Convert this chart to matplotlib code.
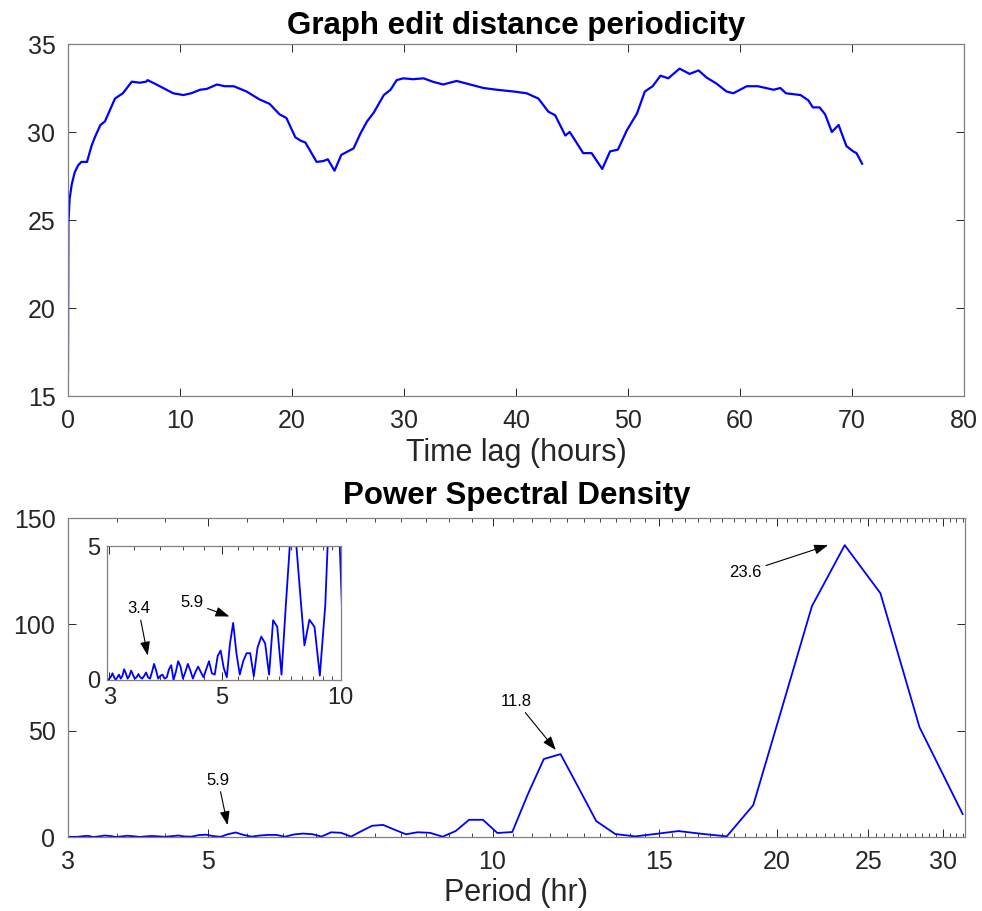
import matplotlib
matplotlib.use("Agg")
import matplotlib.pyplot as plt
from matplotlib.ticker import MultipleLocator, NullFormatter, FixedLocator
import numpy as np

plt.rcParams['font.family'] = ['Liberation Sans', 'DejaVu Sans']

# --- top panel: graph edit distance vs time lag ---
lag_hours = [0, 0.04, 0.15, 0.33, 0.6, 0.9, 1.2, 1.7, 2.1, 2.4, 2.9, 3.3, 3.75, 4.2, 4.9,
             5.7, 6.4, 7.0, 7.1, 7.9, 8.5, 9.4, 10.3, 11.0, 11.8, 12.4, 13.3, 14.0, 14.8,
             15.95, 17.1, 18.0, 18.9, 19.5, 20.3, 20.8, 21.2, 22.2, 22.8, 23.2, 23.8, 24.4,
             25.5, 26.1, 26.7, 27.3, 28.2, 28.8, 29.35, 29.95, 30.8, 31.75, 32.6, 33.5, 34.7,
             35.6, 37.1, 38.3, 39.8, 40.95, 42.0, 42.9, 43.5, 44.4, 44.8, 46.0, 46.75, 47.7,
             48.4, 49.1, 49.9, 50.8, 51.5, 52.2, 52.9, 53.6, 54.6, 55.5, 56.3, 57.0, 57.9,
             58.8, 59.4, 60.6, 61.6, 63.0, 63.6, 64.1, 65.4, 66.1, 66.5, 67.1, 67.6, 68.2,
             68.8, 69.5, 70.1, 70.4, 70.9]
ged_values = [16.4, 24.8, 26.2, 27.0, 27.7, 28.1, 28.3, 28.3, 29.2, 29.7, 30.4, 30.6, 31.25,
              31.9, 32.2, 32.86, 32.8, 32.86, 32.95, 32.7, 32.5, 32.2, 32.1, 32.2, 32.4, 32.45,
              32.7, 32.6, 32.6, 32.3, 31.85, 31.6, 31.0, 30.8, 29.7, 29.5, 29.4, 28.3, 28.35,
              28.45, 27.8, 28.7, 29.07, 29.9, 30.6, 31.1, 32.1, 32.4, 32.95, 33.05, 33.0, 33.05,
              32.85, 32.7, 32.9, 32.75, 32.5, 32.4, 32.3, 32.2, 31.9, 31.15, 30.95, 29.8, 30.0,
              28.8, 28.8, 27.9, 28.9, 29.0, 30.1, 31.05, 32.3, 32.6, 33.2, 33.05, 33.6, 33.3,
              33.5, 33.1, 32.75, 32.3, 32.2, 32.6, 32.6, 32.4, 32.5, 32.2, 32.1, 31.8, 31.4,
              31.4, 31.0, 30.0, 30.4, 29.2, 28.9, 28.8, 28.2]

# --- bottom panel: power spectral density vs period ---
fft_bins = np.arange(9, 112)
psd_periods = 283.3 / fft_bins  # period (hr) of each zero-padded FFT bin
psd_values = [10.8, 51.7, 114.7, 137.3, 108.6, 60, 15, 0.3, 1.5, 2.8,
              1.5, 0.3, 1.4, 7.5, 23.7, 39.0, 36.7, 20, 2.35, 1.9,
              8.1, 8.1, 2.8, 0.16, 1.98, 2.25, 1.29, 3.5, 5.7, 5.3,
              2.8, 0.2, 1.98, 2.23, 0.2, 1.37, 1.62, 1.2, 0.14, 1.0,
              1.0, 0.7, 0.2, 1.0, 2.13, 1.35, 0.1, 0.45, 1.1, 0.9,
              0.2, 0.25, 0.7, 0.4, 0.1, 0.3, 0.5, 0.3, 0.05, 0.35,
              0.6, 0.3, 0.05, 0.5, 0.7, 0.3, 0.0, 0.55, 0.4, 0.1,
              0.05, 0.2, 0.15, 0.05, 0.35, 0.6, 0.3, 0.05, 0.1, 0.28,
              0.15, 0.05, 0.1, 0.22, 0.1, 0.05, 0.2, 0.35, 0.15, 0.05,
              0.25, 0.4, 0.15, 0.05, 0.2, 0.1, 0.0, 0.1, 0.25, 0.12,
              0.05, 0.0, 0.1]

main_xticks = [5, 10, 15, 20, 25, 30]
inset_xticks = [5, 10]

BLUE = '#0000ff'
TXT = '#262626'


def style_axes(ax, size):
    ax.tick_params(which='both', direction='in', top=True, right=True,
                   colors=TXT, labelsize=size, pad=9)
    ax.tick_params(which='major', length=6, width=0.7)
    ax.tick_params(which='minor', length=3, width=0.6)
    for s in ax.spines.values():
        s.set_color('#808080')
        s.set_linewidth(0.9)


def arrow(ax, label, tip, text, ha='center'):
    ax.annotate(label, xy=tip, xytext=text, ha=ha, va='center', fontsize=12,
                color='k',
                arrowprops=dict(arrowstyle='-|>,head_length=0.7,head_width=0.25',
                                color='k', lw=0.8, shrinkA=1, shrinkB=0))


fig = plt.figure(figsize=(9.82, 9.11), dpi=100)

# top panel
ax1 = fig.add_axes([0.0692, 0.5653, 0.9125, 0.3864])
ax1.plot(lag_hours, ged_values, color=BLUE, lw=1.6)
ax1.set_xlim(0, 80)
ax1.set_ylim(15, 35)
ax1.set_xticks(range(0, 81, 10))
ax1.set_yticks(range(15, 36, 5))
style_axes(ax1, 18)
ax1.set_xlabel('Time lag (hours)', fontsize=22, color=TXT, labelpad=4)
ax1.set_title('Graph edit distance periodicity', fontsize=22.5, fontweight='bold', pad=7)

# bottom panel
ax2 = fig.add_axes([0.0692, 0.0812, 0.9134, 0.350])
ax2.plot(psd_periods, psd_values, color=BLUE, lw=1.3)
ax2.set_xscale('log')
ax2.set_xlim(3.55, 31.65)
ax2.set_ylim(0, 150)
ax2.xaxis.set_major_locator(FixedLocator([3.55] + main_xticks))
ax2.set_xticklabels(['3'] + [str(t) for t in main_xticks])
ax2.xaxis.set_minor_locator(MultipleLocator(0.5))
ax2.xaxis.set_minor_formatter(NullFormatter())
ax2.set_yticks([0, 50, 100, 150])
style_axes(ax2, 18)
ax2.set_xlabel('Period (hr)', fontsize=22, color=TXT, labelpad=3)
ax2.set_title('Power Spectral Density', fontsize=22.5, fontweight='bold', pad=10)

arrow(ax2, '23.6', (22.67, 137.3), (19.29, 124.6), ha='right')
arrow(ax2, '11.8', (11.67, 40.9), (10.59, 63.9))
arrow(ax2, '5.9', (5.24, 5.6), (5.12, 26.8))

# inset zoom on short periods
ax3 = fig.add_axes([0.109, 0.2536, 0.238, 0.147])
ax3.plot(psd_periods, psd_values, color=BLUE, lw=1.3)
ax3.set_xscale('log')
ax3.set_xlim(2.565, 10)
ax3.set_ylim(0, 5)
ax3.xaxis.set_major_locator(FixedLocator([2.6] + inset_xticks))
ax3.set_xticklabels(['3'] + [str(t) for t in inset_xticks])
ax3.xaxis.set_minor_locator(MultipleLocator(0.5))
ax3.xaxis.set_minor_formatter(NullFormatter())
ax3.set_yticks([0, 5])
style_axes(ax3, 17)
ax3.tick_params(which='both', pad=5)

arrow(ax3, '3.4', (3.25, 0.91), (3.08, 2.67))
arrow(ax3, '5.9', (5.23, 2.37), (4.205, 2.88))

fig.savefig('out.png', dpi=100)
